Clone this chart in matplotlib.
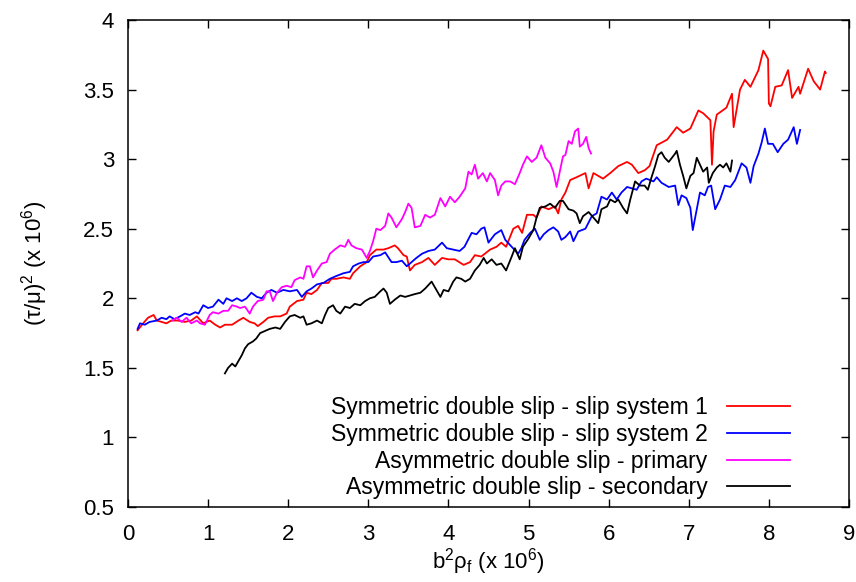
import matplotlib
matplotlib.use("Agg")
import matplotlib.pyplot as plt

plt.rcParams["font.family"] = ["Liberation Sans", "DejaVu Sans"]
plt.rcParams["mathtext.fontset"] = "custom"
plt.rcParams["mathtext.rm"] = "Liberation Sans"
plt.rcParams["mathtext.it"] = "Liberation Sans"
plt.rcParams["mathtext.default"] = "regular"

# Symmetric double slip - slip system 1
red_x = [0.12, 0.19, 0.25, 0.32, 0.36, 0.42, 0.48, 0.54, 0.62, 0.71, 0.79, 0.86, 0.94,
         1.02, 1.09, 1.15, 1.21, 1.30, 1.38, 1.44, 1.52, 1.58, 1.62, 1.69, 1.75, 1.83,
         1.90, 1.98, 2.02, 2.11, 2.19, 2.23, 2.29, 2.36, 2.42, 2.50, 2.54, 2.60, 2.69,
         2.77, 2.81, 2.90, 2.98, 3.02, 3.10, 3.19, 3.25, 3.33, 3.37, 3.44, 3.48, 3.52,
         3.58, 3.67, 3.75, 3.83, 3.92, 4.00, 4.08, 4.19, 4.27, 4.33, 4.41, 4.52, 4.60,
         4.66, 4.72, 4.81, 4.87, 4.92, 4.98, 5.06, 5.10, 5.16, 5.25, 5.33, 5.37, 5.41,
         5.46, 5.52, 5.60, 5.71, 5.75, 5.81, 5.93, 6.02, 6.12, 6.23, 6.29, 6.37, 6.45,
         6.51, 6.60, 6.73, 6.85, 6.93, 7.02, 7.12, 7.18, 7.27, 7.29, 7.31, 7.35, 7.47,
         7.54, 7.56, 7.64, 7.70, 7.77, 7.87, 7.93, 7.99, 8.00, 8.02, 8.08, 8.16, 8.24,
         8.29, 8.37, 8.39, 8.49, 8.56, 8.64, 8.70, 8.71]
red_y = [1.77, 1.82, 1.86, 1.88, 1.84, 1.83, 1.82, 1.84, 1.84, 1.83, 1.84, 1.87, 1.82,
         1.84, 1.81, 1.79, 1.81, 1.81, 1.84, 1.86, 1.83, 1.82, 1.80, 1.83, 1.86, 1.87,
         1.87, 1.89, 1.94, 1.98, 1.99, 2.04, 2.03, 2.06, 2.11, 2.11, 2.14, 2.14, 2.15,
         2.14, 2.18, 2.23, 2.26, 2.31, 2.35, 2.35, 2.36, 2.38, 2.36, 2.31, 2.30, 2.20,
         2.24, 2.26, 2.29, 2.24, 2.29, 2.28, 2.28, 2.24, 2.26, 2.31, 2.30, 2.35, 2.37,
         2.40, 2.37, 2.50, 2.52, 2.47, 2.60, 2.60, 2.58, 2.66, 2.64, 2.66, 2.61, 2.71,
         2.76, 2.85, 2.87, 2.90, 2.79, 2.90, 2.86, 2.90, 2.95, 2.98, 2.96, 2.90, 2.92,
         2.95, 3.10, 3.14, 3.23, 3.19, 3.22, 3.35, 3.33, 3.28, 2.96, 3.20, 3.32, 3.37,
         3.47, 3.23, 3.50, 3.57, 3.52, 3.64, 3.78, 3.72, 3.40, 3.38, 3.52, 3.53, 3.64,
         3.44, 3.52, 3.47, 3.65, 3.56, 3.50, 3.63, 3.62]

# Symmetric double slip - slip system 2
blue_x = [0.12, 0.15, 0.21, 0.27, 0.36, 0.42, 0.48, 0.52, 0.58, 0.65, 0.71, 0.77, 0.84,
          0.88, 0.94, 1.00, 1.06, 1.13, 1.19, 1.23, 1.30, 1.36, 1.42, 1.48, 1.54, 1.61,
          1.67, 1.73, 1.79, 1.86, 1.94, 2.02, 2.11, 2.17, 2.23, 2.29, 2.36, 2.44, 2.52,
          2.60, 2.69, 2.77, 2.81, 2.88, 2.94, 3.00, 3.06, 3.15, 3.21, 3.29, 3.35, 3.42,
          3.48, 3.54, 3.60, 3.67, 3.75, 3.83, 3.92, 3.98, 4.06, 4.14, 4.20, 4.29, 4.35,
          4.41, 4.45, 4.50, 4.58, 4.66, 4.71, 4.79, 4.87, 4.91, 4.95, 5.02, 5.08, 5.14,
          5.19, 5.25, 5.31, 5.37, 5.41, 5.46, 5.52, 5.56, 5.62, 5.71, 5.79, 5.85, 5.91,
          5.98, 6.04, 6.10, 6.16, 6.23, 6.29, 6.35, 6.41, 6.47, 6.56, 6.60, 6.66, 6.75,
          6.83, 6.87, 6.91, 6.97, 7.02, 7.05, 7.10, 7.14, 7.20, 7.24, 7.28, 7.33, 7.39,
          7.45, 7.52, 7.58, 7.66, 7.72, 7.77, 7.81, 7.87, 7.91, 7.95, 7.99, 8.05, 8.11,
          8.18, 8.24, 8.31, 8.35, 8.39]
blue_y = [1.78, 1.82, 1.81, 1.83, 1.84, 1.86, 1.85, 1.87, 1.85, 1.87, 1.89, 1.88, 1.90,
          1.89, 1.95, 1.93, 1.94, 1.99, 1.96, 2.00, 1.98, 2.00, 1.98, 2.00, 2.04, 2.01,
          2.00, 2.04, 2.06, 2.04, 2.06, 2.05, 2.06, 2.01, 2.05, 2.07, 2.10, 2.11, 2.14,
          2.16, 2.18, 2.19, 2.23, 2.25, 2.26, 2.26, 2.30, 2.31, 2.33, 2.26, 2.26, 2.27,
          2.23, 2.26, 2.29, 2.32, 2.34, 2.35, 2.40, 2.36, 2.35, 2.34, 2.37, 2.47, 2.46,
          2.50, 2.51, 2.40, 2.46, 2.49, 2.42, 2.37, 2.32, 2.36, 2.42, 2.47, 2.50, 2.42,
          2.46, 2.49, 2.51, 2.48, 2.42, 2.44, 2.48, 2.41, 2.48, 2.50, 2.59, 2.61, 2.73,
          2.71, 2.76, 2.71, 2.76, 2.80, 2.79, 2.78, 2.84, 2.86, 2.84, 2.87, 2.83, 2.80,
          2.81, 2.67, 2.74, 2.72, 2.65, 2.49, 2.64, 2.76, 2.74, 2.80, 2.81, 2.64, 2.71,
          2.81, 2.80, 2.85, 2.97, 2.94, 2.83, 2.95, 3.04, 3.12, 3.22, 3.11, 3.11, 3.05,
          3.11, 3.14, 3.23, 3.11, 3.21]

# Asymmetric double slip - primary
mag_x = [0.55, 0.61, 0.67, 0.73, 0.79, 0.86, 0.90, 0.96, 1.02, 1.06, 1.13, 1.19, 1.25,
         1.30, 1.36, 1.40, 1.46, 1.52, 1.56, 1.62, 1.69, 1.73, 1.77, 1.81, 1.86, 1.92,
         1.98, 2.04, 2.08, 2.15, 2.19, 2.23, 2.27, 2.31, 2.36, 2.42, 2.48, 2.52, 2.58,
         2.65, 2.71, 2.75, 2.79, 2.85, 2.92, 2.98, 3.02, 3.06, 3.10, 3.15, 3.21, 3.25,
         3.29, 3.35, 3.42, 3.46, 3.50, 3.54, 3.58, 3.65, 3.71, 3.77, 3.83, 3.90, 3.96,
         4.02, 4.08, 4.14, 4.21, 4.25, 4.29, 4.33, 4.37, 4.43, 4.48, 4.52, 4.58, 4.62,
         4.66, 4.71, 4.77, 4.83, 4.89, 4.93, 4.98, 5.04, 5.10, 5.16, 5.21, 5.27, 5.31,
         5.35, 5.39, 5.43, 5.46, 5.50, 5.54, 5.58, 5.62, 5.64, 5.68, 5.72, 5.75, 5.78]
mag_y = [1.84, 1.86, 1.83, 1.86, 1.82, 1.84, 1.82, 1.81, 1.88, 1.90, 1.89, 1.91, 1.91,
         1.95, 1.94, 1.93, 1.94, 1.89, 1.94, 1.98, 1.99, 2.05, 2.05, 1.98, 2.04, 2.08,
         2.09, 2.08, 2.13, 2.15, 2.14, 2.23, 2.23, 2.15, 2.20, 2.25, 2.26, 2.32, 2.35,
         2.38, 2.37, 2.42, 2.38, 2.36, 2.35, 2.29, 2.34, 2.41, 2.50, 2.49, 2.52, 2.61,
         2.58, 2.51, 2.57, 2.62, 2.68, 2.65, 2.51, 2.52, 2.60, 2.58, 2.60, 2.72, 2.66,
         2.73, 2.69, 2.73, 2.79, 2.91, 2.89, 2.96, 2.86, 2.90, 2.84, 2.90, 2.85, 2.74,
         2.81, 2.84, 2.84, 2.82, 2.90, 2.96, 3.02, 2.98, 3.01, 3.10, 3.01, 2.97, 2.91,
         2.80, 2.91, 3.02, 3.03, 3.13, 3.11, 3.20, 3.22, 3.09, 3.11, 3.16, 3.08, 3.04]

# Asymmetric double slip - secondary
blk_x = [1.21, 1.25, 1.30, 1.34, 1.38, 1.42, 1.46, 1.50, 1.56, 1.60, 1.65, 1.69, 1.73,
         1.77, 1.84, 1.90, 1.96, 2.02, 2.08, 2.15, 2.19, 2.23, 2.29, 2.36, 2.42, 2.46,
         2.50, 2.56, 2.60, 2.65, 2.71, 2.77, 2.83, 2.90, 2.96, 3.02, 3.08, 3.15, 3.19,
         3.23, 3.27, 3.33, 3.40, 3.46, 3.52, 3.58, 3.65, 3.71, 3.79, 3.83, 3.90, 3.94,
         4.00, 4.06, 4.10, 4.16, 4.21, 4.27, 4.33, 4.39, 4.44, 4.48, 4.54, 4.60, 4.66,
         4.72, 4.79, 4.83, 4.89, 4.93, 5.00, 5.06, 5.10, 5.14, 5.21, 5.27, 5.33, 5.39,
         5.43, 5.50, 5.56, 5.60, 5.64, 5.68, 5.75, 5.81, 5.87, 5.91, 5.98, 6.02, 6.08,
         6.12, 6.18, 6.23, 6.27, 6.33, 6.39, 6.45, 6.49, 6.53, 6.58, 6.62, 6.66, 6.70,
         6.75, 6.79, 6.83, 6.85, 6.89, 6.93, 6.97, 7.02, 7.06, 7.10, 7.14, 7.18, 7.23,
         7.25, 7.30, 7.35, 7.39, 7.43, 7.47, 7.52, 7.54]
blk_y = [1.46, 1.50, 1.53, 1.51, 1.55, 1.59, 1.64, 1.67, 1.69, 1.71, 1.75, 1.76, 1.77,
         1.78, 1.79, 1.78, 1.83, 1.87, 1.88, 1.86, 1.87, 1.81, 1.82, 1.84, 1.82, 1.88,
         1.93, 1.95, 1.91, 1.89, 1.94, 1.93, 1.96, 1.95, 1.98, 2.00, 2.01, 2.05, 2.07,
         2.04, 1.96, 1.99, 2.02, 2.01, 2.02, 2.03, 2.04, 2.07, 2.12, 2.08, 2.01, 2.06,
         2.05, 2.12, 2.15, 2.14, 2.12, 2.14, 2.20, 2.24, 2.29, 2.25, 2.28, 2.24, 2.25,
         2.20, 2.30, 2.36, 2.28, 2.37, 2.43, 2.49, 2.58, 2.65, 2.66, 2.68, 2.65, 2.70,
         2.70, 2.64, 2.63, 2.61, 2.54, 2.59, 2.62, 2.58, 2.54, 2.64, 2.66, 2.71, 2.69,
         2.71, 2.65, 2.61, 2.71, 2.84, 2.81, 2.81, 2.78, 2.86, 2.95, 3.03, 3.05, 3.01,
         2.98, 3.01, 3.04, 3.06, 2.96, 2.88, 2.79, 2.88, 2.90, 3.01, 2.96, 2.91, 2.94,
         2.83, 2.90, 2.94, 2.96, 2.94, 2.97, 2.91, 2.99]

labels = ["Symmetric double slip - slip system 1",
          "Symmetric double slip - slip system 2",
          "Asymmetric double slip - primary",
          "Asymmetric double slip - secondary"]
colors = ["#ff0000", "#0000ff", "#ff00ff", "#000000"]

fig = plt.figure(figsize=(8.56, 5.82), dpi=100)
ax = fig.add_axes([0.1495, 0.1289, 0.8423, 0.8367])

series = [(red_x, red_y), (blue_x, blue_y), (mag_x, mag_y), (blk_x, blk_y)]
for (xs, ys), lab, col in zip(series, labels, colors):
    ax.plot(xs, ys, color=col, lw=1.3, label=lab)

ax.set_xlim(0, 9)
ax.set_ylim(0.5, 4)
ax.set_xticks(range(0, 10))
ax.set_yticks([0.5, 1, 1.5, 2, 2.5, 3, 3.5, 4])
ax.set_yticklabels(["0.5", "1", "1.5", "2", "2.5", "3", "3.5", "4"])
ax.tick_params(direction="in", length=6, width=1, top=True, right=True,
               labelsize=16, pad=10)
ax.tick_params(axis="x", pad=12)
for s in ax.spines.values():
    s.set_linewidth(1.1)

ax.set_xlabel("b$^2$ρ$_f$ (x 10$^6$)", fontsize=16, labelpad=1)
ax.set_ylabel("(τ/μ)$^2$ (x 10$^6$)", fontsize=16, labelpad=24)

ax.legend(loc="lower right", bbox_to_anchor=(0.94, -0.017), frameon=False,
          markerfirst=False, fontsize=16.5, handlelength=2.75, handletextpad=0.83,
          labelspacing=0.16, borderaxespad=0.3)

fig.savefig("out.png", dpi=100)
